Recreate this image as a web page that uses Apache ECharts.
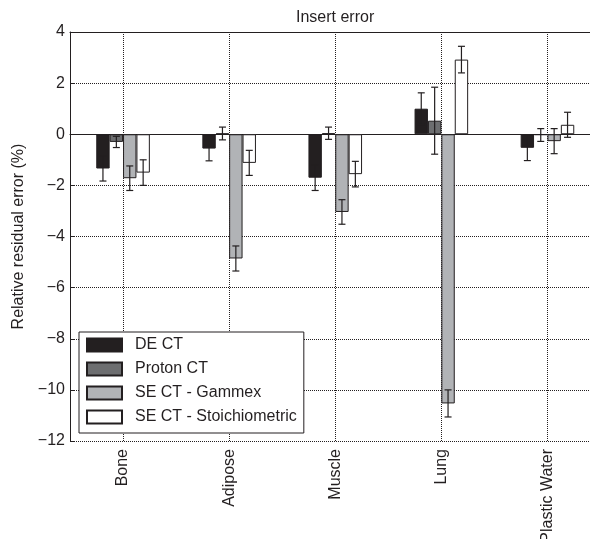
<!DOCTYPE html>
<html lang="en">
<head>
    <meta charset="utf-8"/>
    <script src="https://cdn.jsdelivr.net/npm/echarts@6.0.0/dist/echarts.min.js"></script>
    <title>Insert error</title>
    <style>
        html, body { margin: 0; padding: 0; background: #fff; }
    </style>
</head>
<body>
<div id="main" style="width: 590px;height:539px;"></div>
<script type="text/javascript">

    // data
    var categories = ['Bone', 'Adipose', 'Muscle', 'Lung', 'Plastic Water'];
    var seriesNames = ['DE CT', 'Proton CT', 'SE CT - Gammex', 'SE CT - Stoichiometric'];

    var deCT = [-1.34, -0.56, -1.70, 1.00, -0.53];
    var deCTErr = [0.49, 0.48, 0.50, 0.62, 0.50];
    var protonCT = [-0.30, 0.03, 0.04, 0.53, -0.03];
    var protonCTErr = [0.22, 0.25, 0.24, 1.31, 0.25];
    var gammex = [-1.72, -4.86, -3.04, -10.53, -0.27];
    var gammexErr = [0.48, 0.49, 0.48, 0.53, 0.49];
    var stoich = [-1.50, -1.12, -1.56, 2.92, 0.37];
    var stoichErr = [0.50, 0.49, 0.50, 0.52, 0.49];

    var yMin = -12, yMax = 4, yStep = 2;

    var values = [deCT, protonCT, gammex, stoich];
    var errors = [deCTErr, protonCTErr, gammexErr, stoichErr];
    var colors = ['#231f20', '#6d6e70', '#b1b3b6', '#ffffff'];

    var ink = '#231f20';
    var font = 'Liberation Sans, Arial, Helvetica, sans-serif';
    var barW = 13.4;

    var myChart = echarts.init(document.getElementById('main'));

    function errItem(k) {
        return function (params, api) {
            var x = api.value(0), v = api.value(1), e = api.value(2);
            var hi = api.coord([x, v + e]);
            var lo = api.coord([x, v - e]);
            var cx = hi[0] + (k - 1.5) * barW;
            var st = {stroke: ink, lineWidth: 1.2};
            return {
                type: 'group',
                children: [
                    {type: 'line', shape: {x1: cx, y1: hi[1], x2: cx, y2: lo[1]}, style: st},
                    {type: 'line', shape: {x1: cx - 3.5, y1: hi[1], x2: cx + 3.5, y2: hi[1]}, style: st},
                    {type: 'line', shape: {x1: cx - 3.5, y1: lo[1], x2: cx + 3.5, y2: lo[1]}, style: st}
                ]
            };
        };
    }

    var series = [];
    for (var k = 0; k < 4; k++) {
        series.push({
            name: seriesNames[k],
            type: 'bar',
            barWidth: barW,
            barGap: '0%',
            data: values[k],
            itemStyle: {color: colors[k], borderColor: ink, borderWidth: 1},
            emphasis: {disabled: true},
            z: 2
        });
    }
    for (var k = 0; k < 4; k++) {
        series.push({
            type: 'custom',
            renderItem: errItem(k),
            data: categories.map(function (c, i) { return [i, values[k][i], errors[k][i]]; }),
            silent: true,
            z: 5
        });
    }

    var option = {
        animation: false,
        textStyle: {fontFamily: font},
        title: {
            text: 'Insert error',
            left: 296,
            top: 10,
            padding: 0,
            textStyle: {fontSize: 16, fontWeight: 'normal', color: ink, fontFamily: font}
        },
        legend: {
            data: seriesNames,
            orient: 'vertical',
            left: 79,
            top: 332,
            itemWidth: 35,
            itemHeight: 13,
            itemGap: 8,
            padding: [5, 7, 8, 7],
            backgroundColor: '#ffffff',
            borderColor: ink,
            borderWidth: 1,
            icon: 'rect',
            selectedMode: false,
            textStyle: {fontSize: 16, color: ink, fontFamily: font, lineHeight: 16, padding: [0, 0, 0, 8]}
        },
        grid: {left: 70, top: 32, width: 530.5, height: 409, containLabel: false, outerBoundsMode: 'none'},
        xAxis: [
            {
                type: 'category',
                data: categories,
                position: 'bottom',
                axisLine: {lineStyle: {color: ink, width: 1}},
                axisTick: {inside: true, alignWithLabel: true, length: 5, lineStyle: {color: ink}},
                axisLabel: {rotate: 90, margin: 8, fontSize: 16, color: ink, fontFamily: font},
                splitLine: {show: true, alignWithLabel: true, lineStyle: {type: 'dotted', color: ink, width: 1}}
            },
            {
                type: 'category',
                data: categories,
                position: 'top',
                axisLine: {lineStyle: {color: ink, width: 1}},
                axisTick: {inside: true, alignWithLabel: true, length: 5, lineStyle: {color: ink}},
                axisLabel: {show: false},
                splitLine: {show: false}
            }
        ],
        yAxis: {
            type: 'value',
            min: yMin,
            max: yMax,
            interval: yStep,
            name: 'Relative residual error (%)',
            nameLocation: 'middle',
            nameGap: 42,
            nameTextStyle: {fontSize: 16, color: ink, fontFamily: font},
            axisLine: {show: true, lineStyle: {color: ink, width: 1}},
            axisTick: {show: true, inside: true, length: 5, lineStyle: {color: ink}},
            axisLabel: {
                fontSize: 16, color: ink, margin: 5, fontFamily: font,
                formatter: function (v) { return String(v).replace('-', '\u2212'); }
            },
            splitLine: {show: true, lineStyle: {type: 'dotted', color: ink, width: 1}}
        },
        series: series
    };
    myChart.setOption(option);
</script>
</body>
</html>
